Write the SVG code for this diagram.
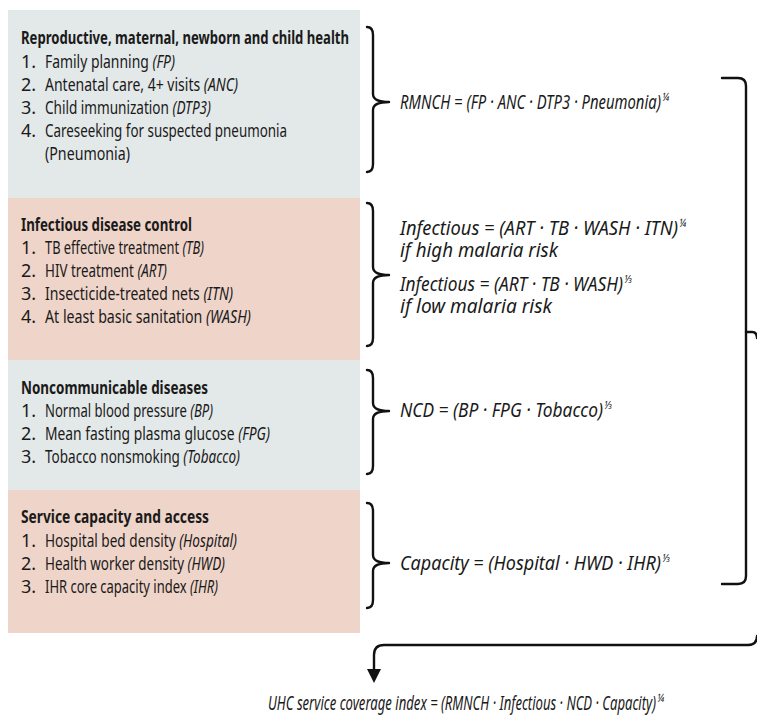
<svg xmlns="http://www.w3.org/2000/svg" width="757" height="720" viewBox="0 0 757 720">
<style>
text{font-family:"Noto Sans","DejaVu Sans",sans-serif;font-stretch:extra-condensed;fill:#1a1a1a;font-size:18px}
.t{font-weight:bold}
.i{font-style:italic}
.f{font-style:italic;font-size:20px}
.sup{font-style:italic;font-size:10px}
.gray{fill:#e3e8e8}
.pink{fill:#efd4c9}
.br{fill:none;stroke:#111;stroke-width:2.4;stroke-linecap:round;stroke-linejoin:round}
</style>
<g id="panel-rmnch">
<rect class="gray" x="8" y="10" width="352" height="188"/>
<text class="t" x="21" y="44" textLength="328" lengthAdjust="spacingAndGlyphs">Reproductive, maternal, newborn and child health</text>
<text x="21" y="68">1.</text><text x="45" y="68" textLength="130" lengthAdjust="spacingAndGlyphs">Family planning <tspan class="i">(FP)</tspan></text>
<text x="21" y="91">2.</text><text x="45" y="91" textLength="193" lengthAdjust="spacingAndGlyphs">Antenatal care, 4+ visits <tspan class="i">(ANC)</tspan></text>
<text x="21" y="114">3.</text><text x="45" y="114" textLength="166" lengthAdjust="spacingAndGlyphs">Child immunization <tspan class="i">(DTP3)</tspan></text>
<text x="21" y="137">4.</text><text x="45" y="137" textLength="242" lengthAdjust="spacingAndGlyphs">Careseeking for suspected pneumonia</text>
<text x="45" y="160" textLength="85" lengthAdjust="spacingAndGlyphs">(Pneumonia)</text>
</g>
<g id="panel-infectious">
<rect class="pink" x="8" y="198" width="352" height="162"/>
<text class="t" x="21" y="231" textLength="171" lengthAdjust="spacingAndGlyphs">Infectious disease control</text>
<text x="21" y="254">1.</text><text x="45" y="254" textLength="159" lengthAdjust="spacingAndGlyphs">TB effective treatment <tspan class="i">(TB)</tspan></text>
<text x="21" y="277">2.</text><text x="45" y="277" textLength="122" lengthAdjust="spacingAndGlyphs">HIV treatment <tspan class="i">(ART)</tspan></text>
<text x="21" y="300">3.</text><text x="45" y="300" textLength="188" lengthAdjust="spacingAndGlyphs">Insecticide-treated nets <tspan class="i">(ITN)</tspan></text>
<text x="21" y="323">4.</text><text x="45" y="323" textLength="206" lengthAdjust="spacingAndGlyphs">At least basic sanitation <tspan class="i">(WASH)</tspan></text>
</g>
<g id="panel-ncd">
<rect class="gray" x="8" y="360" width="352" height="130"/>
<text class="t" x="21" y="394" textLength="187" lengthAdjust="spacingAndGlyphs">Noncommunicable diseases</text>
<text x="21" y="417">1.</text><text x="45" y="417" textLength="168" lengthAdjust="spacingAndGlyphs">Normal blood pressure <tspan class="i">(BP)</tspan></text>
<text x="21" y="440">2.</text><text x="45" y="440" textLength="225" lengthAdjust="spacingAndGlyphs">Mean fasting plasma glucose <tspan class="i">(FPG)</tspan></text>
<text x="21" y="463">3.</text><text x="45" y="463" textLength="195" lengthAdjust="spacingAndGlyphs">Tobacco nonsmoking <tspan class="i">(Tobacco)</tspan></text>
</g>
<g id="panel-capacity">
<rect class="pink" x="8" y="490" width="352" height="143"/>
<text class="t" x="21" y="523" textLength="188" lengthAdjust="spacingAndGlyphs">Service capacity and access</text>
<text x="21" y="547">1.</text><text x="45" y="547" textLength="192" lengthAdjust="spacingAndGlyphs">Hospital bed density <tspan class="i">(Hospital)</tspan></text>
<text x="21" y="570">2.</text><text x="45" y="570" textLength="180" lengthAdjust="spacingAndGlyphs">Health worker density <tspan class="i">(HWD)</tspan></text>
<text x="21" y="593">3.</text><text x="45" y="593" textLength="173" lengthAdjust="spacingAndGlyphs">IHR core capacity index <tspan class="i">(IHR)</tspan></text>
</g>
<g id="formula-rmnch">
<text class="f" x="400" y="109" textLength="261" lengthAdjust="spacingAndGlyphs">RMNCH = (FP · ANC · DTP3 · Pneumonia)</text><text class="sup" x="662" y="101">¼</text>
</g>
<g id="formula-infectious">
<text class="f" x="400" y="235" textLength="278" lengthAdjust="spacingAndGlyphs">Infectious = (ART · TB · WASH · ITN)</text><text class="sup" x="679" y="227">¼</text>
<text class="f" x="400" y="257" textLength="158" lengthAdjust="spacingAndGlyphs">if high malaria risk</text>
<text class="f" x="400" y="291" textLength="223" lengthAdjust="spacingAndGlyphs">Infectious = (ART · TB · WASH)</text><text class="sup" x="624" y="283">⅓</text>
<text class="f" x="400" y="313" textLength="152" lengthAdjust="spacingAndGlyphs">if low malaria risk</text>
</g>
<g id="formula-ncd">
<text class="f" x="400" y="417" textLength="203" lengthAdjust="spacingAndGlyphs">NCD = (BP · FPG · Tobacco)</text><text class="sup" x="604" y="409">⅓</text>
</g>
<g id="formula-capacity">
<text class="f" x="400" y="570" textLength="261" lengthAdjust="spacingAndGlyphs">Capacity = (Hospital · HWD · IHR)</text><text class="sup" x="662" y="562">⅓</text>
</g>
<g id="formula-uhc">
<text class="f" x="268" y="710" textLength="388" lengthAdjust="spacingAndGlyphs">UHC service coverage index = (RMNCH · Infectious · NCD · Capacity)</text><text class="sup" x="657" y="702">¼</text>
</g>
<g id="connectors">
<path class="br" d="M367,27 Q373,27 373,35 L373,94 Q373,102 389,102 Q373,102 373,110 L373,164 Q373,172 367,172"/>
<path class="br" d="M367,203 Q373,203 373,211 L373,267 Q373,275 389,275 Q373,275 373,283 L373,338 Q373,346 367,346"/>
<path class="br" d="M367,370 Q373,370 373,378 L373,403 Q373,411 389,411 Q373,411 373,419 L373,466 Q373,474 367,474"/>
<path class="br" d="M367,503 Q373,503 373,511 L373,555 Q373,563 389,563 Q373,563 373,571 L373,600 Q373,608 367,608"/>
<path class="br" d="M722,78 L738,78 Q746,78 746,86 L746,576 Q746,584 738,584 L722,584"/>
<path class="br" d="M746,332 L752,332 Q757,332 757,338"/>
<path class="br" d="M757,636 Q757,645 748,645 L384,645 Q374,645 374,655 L374,670"/>
<polygon points="367,669 381,669 374,683" fill="#111"/>
</g>
</svg>
